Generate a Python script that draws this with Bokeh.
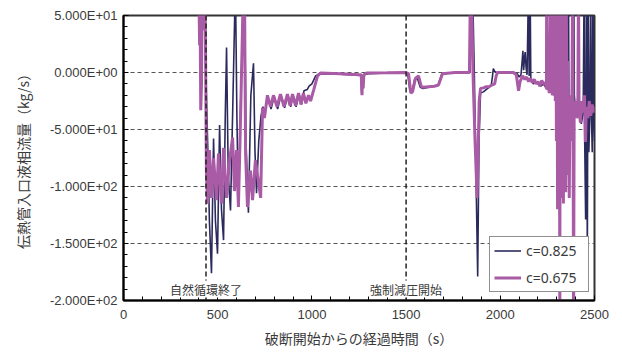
from bokeh.plotting import figure
from bokeh.models import Range1d, FixedTicker, Span, Label, Legend, LegendItem
from bokeh.embed import file_html
from bokeh.resources import INLINE

# Inlet liquid flow rate of the SG tubes, two discharge coefficients
t_825 = [395, 412, 425, 433, 440, 448, 456, 467, 478, 488, 499, 510, 520, 531, 540, 547, 556, 568, 580,
         594, 602, 610, 624, 642, 650, 663, 676, 690, 698, 706, 718, 730,
         740, 750, 766, 783, 800, 818, 836, 855, 873, 888, 900, 916, 932, 945, 958, 975, 985, 1000, 1020,
         1040, 1150, 1260, 1264, 1268, 1272, 1276, 1300, 1400, 1500,
         1510, 1520, 1530, 1545, 1560, 1575, 1590, 1620, 1650, 1670, 1690, 1760, 1840, 1845, 1852, 1862,
         1872, 1880, 1887, 1895, 1910, 1925, 1940, 1952, 1958, 1963, 1970, 1980, 2060, 2090,
         2100, 2110, 2116, 2120, 2124, 2128, 2132, 2137, 2142, 2150, 2153, 2158, 2162, 2168, 2175, 2185,
         2200, 2215, 2230, 2245, 2260, 2275, 2290, 2305, 2320, 2335, 2345, 2352, 2355, 2362, 2365, 2372,
         2380, 2390, 2393, 2400, 2410, 2420, 2430, 2440, 2445, 2448, 2453, 2457, 2462, 2466, 2470, 2475,
         2480, 2483, 2488, 2492, 2495, 2500]
q_825 = [80, 70, 60, 30, -20, -70, -130, -176, -58, -130, -159, -46, -120, -147, -40, 22, -90, -121, -30,
         80, -40, -118, -10, 80, -60, -123, -20, 8, -70, -106, -60, -38,
         -30, -34, -22, -32, -21, -32, -20, -31, -20, -30, -20, -30, -19, -28, -16, -15, -12, -10, -3,
         -1, -1.5, -2.5, -18, -3, -12, -2, -1, -0.5, 0,
         -3, -16, -18, -6, -5, -13, -14, -13, -12, -11, -1, 0, 0, 80, 80, 0,
         -100, -179, -60, -18, -17, -15, -13, -11, -4, 3.5, 1, 0, 0, -1,
         -4, -2, 10, 19, 2, 12, 18, 4, -2, 80, -3, 80, -5, -8, -10, -8,
         -10, -12, -10, -14, -15, -18, -20, -25, -30, -40, -30, 80, -20, 80, -70, -40,
         -30, 80, -20, -35, -40, -30, -45, -35, 80, -60, -129, 80, -165, 80, -70, -40,
         80, -30, -70, 80, -40, -60]

t_675 = [395, 401, 404, 407, 410, 414, 418, 424, 428, 432,
         435, 440, 446, 456, 467, 478, 494, 504, 520, 531, 547, 563, 579, 589, 600, 610, 621, 637, 642,
         648, 658, 674, 685, 700, 717, 728, 738, 748, 764, 780, 796, 815, 833, 852, 870, 884, 897, 913,
         929, 942, 955, 968, 982, 993, 1010, 1030, 1046, 1150, 1250, 1262, 1266, 1269, 1272, 1276, 1290,
         1400, 1500,
         1513, 1525, 1534, 1550, 1566, 1580, 1590, 1620, 1650, 1672, 1693, 1760, 1836, 1842, 1848, 1855,
         1866, 1877, 1888, 1895, 1910, 1925, 1940, 1955, 1970, 1978, 1985, 2070, 2085,
         2097, 2105, 2118, 2130, 2140, 2150, 2160, 2170, 2180, 2190, 2200, 2210, 2220, 2230, 2240, 2245,
         2246, 2248, 2255, 2260, 2266, 2269, 2272, 2276, 2286, 2288, 2292, 2295, 2298, 2301, 2304, 2307,
         2310, 2313, 2316, 2318, 2321, 2324, 2328, 2331, 2335, 2338, 2341, 2344, 2347, 2350, 2354, 2357,
         2360, 2363, 2366, 2370, 2374, 2380, 2384, 2386, 2389, 2392, 2398, 2405, 2412, 2415, 2418, 2425,
         2432, 2440, 2447, 2452, 2457, 2465, 2472, 2480, 2488, 2495, 2500]
q_675 = [80, 60, 24, 45, -33, -10, 80, 60, 37, 80,
         30, -86, -115, -68, -110, -75, -112, -71, -115, -66, -110, -77, -57, -104, -68, -118, -42, 80, 80,
         -71, -118, -86, -112, -77, -97, -110, -31, -40, -20, -30, -20, -30, -19, -30, -19, -29, -19, -29,
         -18, -28, -18, -27, -20, -25, -15, -3, -0.5, -1, -2, -2, -20, -4, -14, -2, -0.5,
         -0.3, 0,
         -1, -18, -17, -5, -3, -12, -13, -12.5, -12, -11, -1, 0, 0, 80, 60, 0,
         -60, -110, -25, -14, -13.5, -12.5, -12.5, -11, -10, -3, 0, 0, -2,
         -16, -8, -3, -6, -4, -8, -5, -9, -6, -10, -8, -12, -7, -10, -9, -14,
         80, -15, -12, -18, 80, -10, 80, -20, -15, 80, -25, 80, -60, 80, -120, 80,
         -100, 60, -210, 70, -110, 80, -90, 50, -115, 80, -80, 40, -105, 80, -60, 10,
         -90, -30, -110, -20, -60, -30, 80, -30, -220, -30, -25, -40, -22, 80, -30, -44,
         -25, -35, -20, -61, -30, -40, -25, -38, -28, -35, -30]

series_labels = ["c=0.825", "c=0.675"]

x_ticks = [0, 500, 1000, 1500, 2000, 2500]
x_minor = list(range(0, 2501, 100))
y_ticks = [-200, -150, -100, -50, 0, 50]
y_minor = list(range(-200, 51, 10))
y_tick_labels = ["-2.000E+02", "-1.500E+02", "-1.000E+02", "-5.000E+01", "0.000E+00", "5.000E+01"]
grid_levels = [-150, -100, -50, 0]

event_times = [438, 1500]
event_labels = ["自然循環終了", "強制減圧開始"]
event_label_y = -190

NAVY = "#2b2a5c"
PURPLE = "#a95ba6"
TEXT = "#3a3a3a"
JP = "Noto Sans CJK JP"

p = figure(width=622, height=354, output_backend="svg", toolbar_location=None,
           x_range=Range1d(0, 2500), y_range=Range1d(-200, 50),
           min_border_left=123, min_border_right=28, min_border_top=15, min_border_bottom=54,
           background_fill_color="white", border_fill_color="white")

p.outline_line_color = "#333333"
p.outline_line_width = 2

# axes
for ax in (p.xaxis[0], p.yaxis[0]):
    ax.axis_line_color = "black"
    ax.axis_line_width = 2
    ax.major_tick_in = 5
    ax.major_tick_out = 0
    ax.minor_tick_in = 4
    ax.minor_tick_out = 0
    ax.major_tick_line_color = "black"
    ax.minor_tick_line_color = "black"
    ax.major_label_text_font = "Liberation Sans"
    ax.major_label_text_font_size = "13px"
    ax.major_label_text_color = TEXT
    ax.axis_label_text_font = JP
    ax.axis_label_text_font_size = "14px"
    ax.axis_label_text_font_style = "normal"
    ax.axis_label_text_color = TEXT

p.xaxis.ticker = FixedTicker(ticks=x_ticks, minor_ticks=x_minor)
p.yaxis.ticker = FixedTicker(ticks=y_ticks, minor_ticks=y_minor)
p.yaxis.major_label_overrides = {v: s for v, s in zip(y_ticks, y_tick_labels)}
p.xaxis.major_label_standoff = 9
p.yaxis.major_label_standoff = 6
p.xaxis.axis_label = "破断開始からの経過時間（s）"
p.yaxis.axis_label = "伝熱管入口液相流量（kg/s）"
p.xaxis.axis_label_standoff = 6
p.yaxis.axis_label_standoff = 14

# grid: dashed horizontal lines only
p.xgrid.visible = False
p.ygrid.ticker = FixedTicker(ticks=grid_levels)
p.ygrid.grid_line_color = "#555555"
p.ygrid.grid_line_dash = "4 3"
p.ygrid.grid_line_width = 1

# data
r1 = p.line(t_825, q_825, line_color=NAVY, line_width=1.6)
r2 = p.line(t_675, q_675, line_color=PURPLE, line_width=3)

# event markers
for t in event_times:
    p.add_layout(Span(location=t, dimension="height", line_color="#222222",
                      line_dash="5 3", line_width=1.5))
for t, lab in zip(event_times, event_labels):
    p.add_layout(Label(x=t, y=event_label_y, text=lab, text_align="center",
                       text_baseline="middle", text_font=JP, text_font_size="12px",
                       text_color=TEXT, background_fill_color="white"))

legend = Legend(items=[LegendItem(label=series_labels[0], renderers=[r1]),
                       LegendItem(label=series_labels[1], renderers=[r2])],
                location=(366, 8), padding=4, spacing=8, margin=0,
                glyph_width=27, glyph_height=19, label_standoff=5, label_width=58,
                label_text_font="Noto Sans", label_text_font_size="14px",
                label_text_color=TEXT, border_line_color="#222222", border_line_width=1.5,
                background_fill_color="white", background_fill_alpha=1)
p.add_layout(legend, "center")

open("out.html", "w").write(file_html(p, INLINE))
